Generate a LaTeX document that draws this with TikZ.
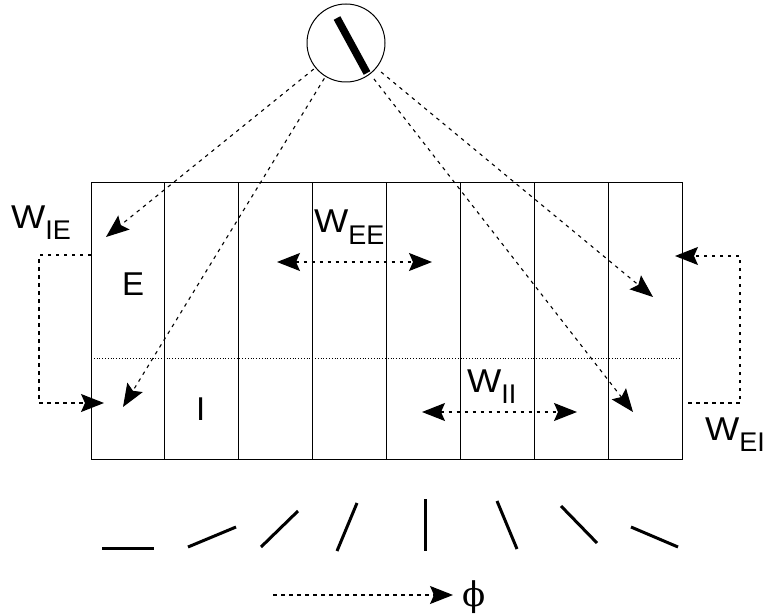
\documentclass[tikz,border=0pt]{standalone}
\usepackage{fontspec}
\setmainfont{Liberation Sans}
\newfontfamily\greekfont{DejaVu Serif}
\usetikzlibrary{arrows.meta}
% weight label: W with a large lowered subscript
\newcommand{\wlabel}[1]{\scalebox{1.1}[1]{W}\raisebox{-11pt}{\fontsize{27}{27}\selectfont #1}}

\begin{document}
\begin{tikzpicture}[x=1pt,y=-1pt,
  column/.style={draw, line width=0.9pt, minimum width=73.875pt, minimum height=277pt,
                 inner sep=0pt, outer sep=0pt},
  head/.tip={Stealth[length=23pt,width=18pt,inset=4pt]},
  link/.style={line width=1.1pt, dash pattern=on 3.5pt off 4.5pt, -head},
  twoway/.style={link, head-head},
  orient/.style={line width=3pt},
  lab/.style={font=\fontsize{33}{33}\selectfont, inner sep=0pt, anchor=base west}]
\useasboundingbox (0,0) rectangle (766,615);

% the stimulus: an oriented bar inside a circle
\node[draw, circle, line width=1pt, minimum size=78pt, inner sep=0pt] (unit) at (346,43) {};
\draw[line width=7.5pt] (337,18) -- (367,73);

% the eight orientation columns
\foreach \i in {1,...,8}
  \node[column] (col\i) at ({91+73.875*(\i-0.5)},320.5) {};
% border between excitatory (top) and inhibitory (bottom) layers
\draw[dotted, line width=0.8pt] (col1.west |- 0,358) -- (680,358);

\node[lab] (lblE) at (122,295) {E};
\node[lab] (lblI) at (196,420) {I};

% feed-forward input from the stimulus
\coordinate (t1) at (106,237);
\coordinate (t2) at (123,407);
\coordinate (t3) at (653,297);
\coordinate (t4) at (633,412);
\draw[link, shorten <=2pt] (unit) -- (t1);
\draw[link, shorten <=2pt] (unit) -- (t2);
\draw[link, shorten <=6pt] (unit) -- (t3);
\draw[link, shorten <=6pt] (unit) -- (t4);

% lateral excitatory and inhibitory connections
\coordinate (ee1) at (277,262);
\coordinate (ee2) at (432,262);
\draw[twoway] (ee1) -- (ee2);
\node[lab] (wee) at (314,233) {\wlabel{EE}};

\coordinate (ii1) at (422,412);
\coordinate (ii2) at (577,412);
\draw[twoway] (ii1) -- (ii2);
\node[lab] (wii) at (467,392) {\wlabel{II}};

% E -> I loop on the left
\coordinate (ie0) at (91,255);
\coordinate (ie1) at (39,255);
\coordinate (ie2) at (39,403);
\coordinate (ie3) at (104,403);
\draw[link] (ie0) -- (ie1) -- (ie2) -- (ie3);
\node[lab] (wie) at (11,228) {\wlabel{IE}};

% I -> E loop on the right
\coordinate (ei0) at (688,403);
\coordinate (ei1) at (740,403);
\coordinate (ei2) at (740,256);
\coordinate (ei3) at (675,256);
\draw[link] (ei0) -- (ei1) -- (ei2) -- (ei3);
\node[lab] (wei) at (705,440) {\wlabel{EI}};

% preferred orientations of the columns
\draw[orient] (102,548) -- (154,548);
\draw[orient] (188,547) -- (236,527);
\draw[orient] (261,547) -- (298,511);
\draw[orient] (337,551) -- (357,503);
\draw[orient] (425,499) -- (425,551);
\draw[orient] (497,501) -- (517,549);
\draw[orient] (561,506) -- (597,543);
\draw[orient] (631,527) -- (678,547);

% orientation axis
\coordinate (ph0) at (273,595);
\coordinate (ph1) at (453,595);
\draw[link] (ph0) -- (ph1);
\node[inner sep=0pt, font=\greekfont\fontsize{34}{34}\selectfont] (phi) at (474,597) {ϕ};
\end{tikzpicture}
\end{document}
